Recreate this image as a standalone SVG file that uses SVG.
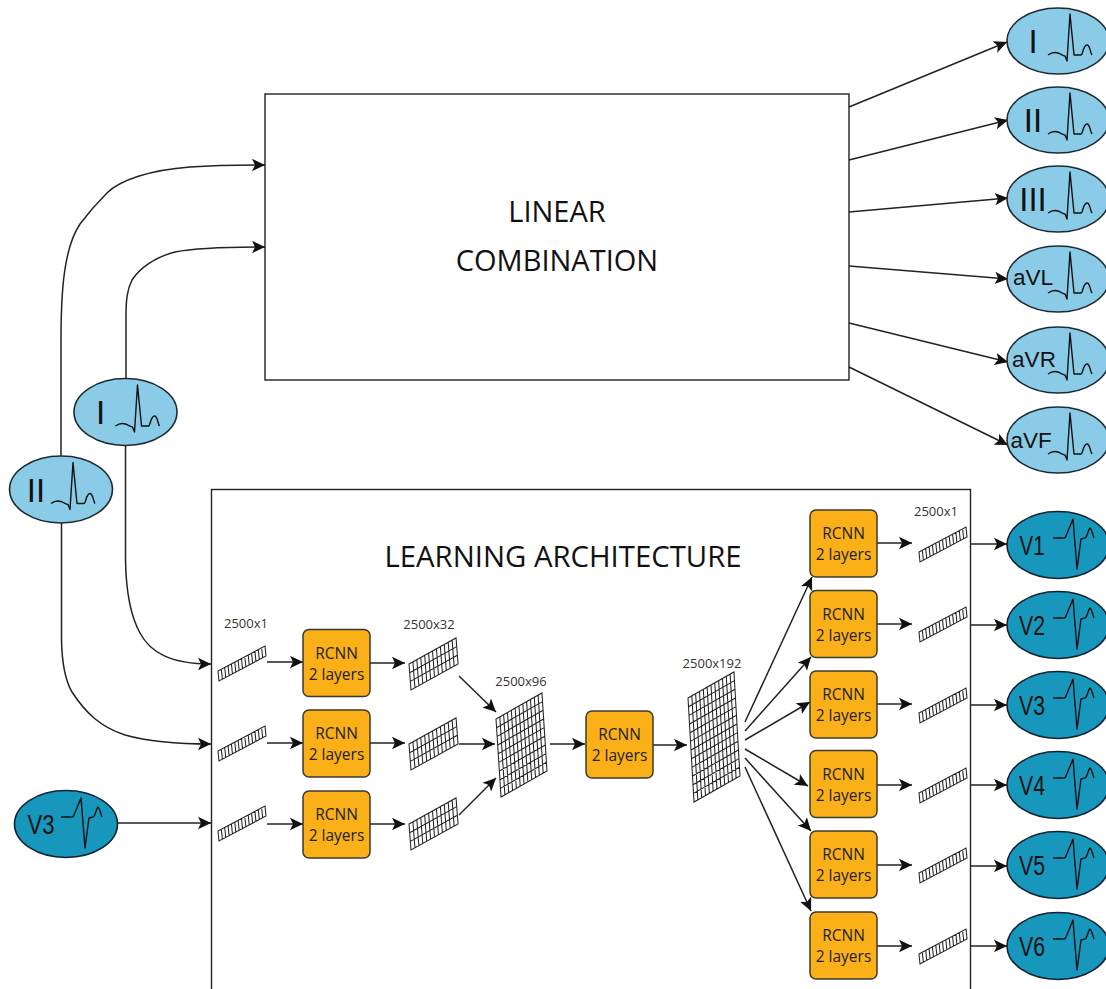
<svg xmlns="http://www.w3.org/2000/svg" xmlns:xlink="http://www.w3.org/1999/xlink" width="1106" height="989" viewBox="0 0 1106 989">
<style>
.c{fill:none;stroke:#222;stroke-width:1.5}
.a{marker-end:url(#ah)}
.box{fill:#fff;stroke:#222;stroke-width:1.4}
.lt{fill:#8accE7;stroke:#1f2a33;stroke-width:1.6}
.dk{fill:#1797bb;stroke:#123;stroke-width:1.6}
.w{fill:none;stroke:#111;stroke-width:1.4;stroke-linejoin:round}
.lead{font-family:"Liberation Sans",sans-serif;font-size:27px;fill:#111;text-anchor:middle}
.bar{font-size:33px}
.sm{font-size:22.500px}
.rc{fill:#fbb017;stroke:#3a3a30;stroke-width:1.5}
.rt{font-family:"Open Sans",sans-serif;font-size:15.500px;fill:#222;text-anchor:middle}
.dim{font-family:"Open Sans",sans-serif;font-size:13px;fill:#333;text-anchor:middle}
.big{font-family:"Open Sans",sans-serif;font-size:29px;fill:#111;text-anchor:middle}
.g{fill:#fff;stroke:#222;stroke-width:1.05;vector-effect:non-scaling-stroke}
</style>
<defs>
<marker id="ah" markerUnits="userSpaceOnUse" markerWidth="15" markerHeight="14" refX="13" refY="7" orient="auto"><path d="M0 0.8L13 7L0 13.2L3 7Z" fill="#111"/></marker>
<path id="wl" class="w" d="M-10 14C-6 11-3 11 0 12C3 13 5 15 7 15L9 20L12-27L16 14L23 14C25 14 25 4 29 4C32 4 32 11 34 14"/>
<path id="wv" class="w" d="M-5-7L4-7C6-7 7-6 8-9L15-26L19 24L23-6L27-7C29-7 30-15 32-17C33-17 35-10 36-7"/>
<path id="cells" class="g" d="M0 0H14V1H0ZM1 0V1M2 0V1M3 0V1M4 0V1M5 0V1M6 0V1M7 0V1M8 0V1M9 0V1M10 0V1M11 0V1M12 0V1M13 0V1"/>
<g id="strip" transform="matrix(3.357 -1.786 1 10 0 0)"><use href="#cells"/></g>
<path id="g3" class="g" d="M0 0H12V3H0ZM0 1H12M0 2H12M1 0V3M2 0V3M3 0V3M4 0V3M5 0V3M6 0V3M7 0V3M8 0V3M9 0V3M10 0V3M11 0V3"/>
<path id="g9" class="g" d="M0 0H12V9H0ZM0 1H12M0 2H12M0 3H12M0 4H12M0 5H12M0 6H12M0 7H12M0 8H12M1 0V9M2 0V9M3 0V9M4 0V9M5 0V9M6 0V9M7 0V9M8 0V9M9 0V9M10 0V9M11 0V9"/>
<path id="g12" class="g" d="M0 0H12V12H0ZM0 1H12M0 2H12M0 3H12M0 4H12M0 5H12M0 6H12M0 7H12M0 8H12M0 9H12M0 10H12M0 11H12M1 0V12M2 0V12M3 0V12M4 0V12M5 0V12M6 0V12M7 0V12M8 0V12M9 0V12M10 0V12M11 0V12"/>
<g id="rcnn"><rect class="rc" width="67" height="67" rx="6"/><text class="rt" x="33.500" y="29">RCNN</text><text class="rt" x="33.500" y="50">2 layers</text></g>
</defs>
<rect width="1106" height="989" fill="#fff"/>
<g id="linear-combination"><rect class="box" x="265" y="94" width="584" height="286"/><text class="big" x="557" y="222">LINEAR</text><text class="big" x="557" y="271">COMBINATION</text></g>
<g id="learning-architecture"><rect class="box" x="211.500" y="489.500" width="759" height="510"/><text class="big" x="563" y="567" textLength="357" lengthAdjust="spacingAndGlyphs">LEARNING ARCHITECTURE</text>
<text class="dim" x="246" y="628">2500x1</text><text class="dim" x="429" y="629">2500x32</text><text class="dim" x="521" y="686">2500x96</text><text class="dim" x="712" y="668">2500x192</text><text class="dim" x="936" y="516">2500x1</text></g>
<g id="connectors">
<path class="c a" d="M849 107L1007 42"/><path class="c a" d="M849 160L1008 120"/><path class="c a" d="M849 212L1008 198"/><path class="c a" d="M849 266L1008 279"/><path class="c a" d="M849 323L1008 362"/><path class="c a" d="M849 367L1008 445"/>
<path class="c a" d="M61 456V340C61 290 64 248 80 224C92 208 100 200 107 193C120 180 150 170 190 167C220 165 245 165 265 165"/>
<path class="c a" d="M126 378V317C126 300 127 290 132 280C140 268 155 257 175 252C195 248 230 247 265 247"/>
<path class="c a" d="M125.500 445V560C126 590 130 615 140 633C150 652 170 664 211 664"/>
<path class="c a" d="M61.500 523V640C62 665 65 680 72 692C85 712 100 727 125 735C150 742 180 744 211 744"/>
<path class="c a" d="M117 823H211"/>
<path class="c a" d="M267 662H303"/><path class="c a" d="M370 663H405"/><path class="c a" d="M267 743H303"/><path class="c a" d="M370 743H405"/><path class="c a" d="M267 824H303"/><path class="c a" d="M370 824H405"/>
<path class="c a" d="M459 676L496 712"/><path class="c a" d="M459 744H495"/><path class="c a" d="M459 815L496 778"/>
<path class="c a" d="M550 744H585"/><path class="c a" d="M653 745H687"/>
<path class="c a" d="M745 722L812 577"/><path class="c a" d="M745 731L811 657"/><path class="c a" d="M745 740L810 702"/><path class="c a" d="M745 749L808 786"/><path class="c a" d="M745 758L811 831"/><path class="c a" d="M745 767L811 911"/>
<path class="c a" d="M877 543H912"/><path class="c a" d="M877 624H912"/><path class="c a" d="M877 704H912"/><path class="c a" d="M877 785H912"/><path class="c a" d="M877 865H912"/><path class="c a" d="M877 946H912"/>
<path class="c a" d="M971 544H1007"/><path class="c a" d="M971 625H1007"/><path class="c a" d="M971 705H1007"/><path class="c a" d="M971 785H1007"/><path class="c a" d="M971 866H1007"/><path class="c a" d="M971 946H1007"/>
</g>
<g id="layers">
<use href="#strip" transform="translate(218 671)"/><use href="#strip" transform="translate(218 751)"/><use href="#strip" transform="translate(218 831)"/>
<use href="#g3" transform="matrix(3.92 -2.17 .67 8.67 409 664)"/><use href="#g3" transform="matrix(3.92 -2.17 .67 8.67 409 744)"/><use href="#g3" transform="matrix(3.92 -2.17 .67 8.67 409 824)"/>
<use href="#g9" transform="matrix(3.83 -2.17 .56 8.67 496 719)"/>
<use href="#g12" transform="matrix(3.83 -2.17 .5 8.67 688 698)"/>
<use href="#strip" transform="translate(919 552)"/><use href="#strip" transform="translate(919 632)"/><use href="#strip" transform="translate(919 713)"/><use href="#strip" transform="translate(919 793)"/><use href="#strip" transform="translate(919 873)"/><use href="#strip" transform="translate(919 954)"/>
</g>
<g id="rcnn-1"><use href="#rcnn" x="303" y="629.500"/></g>
<g id="rcnn-2"><use href="#rcnn" x="303" y="710"/></g>
<g id="rcnn-3"><use href="#rcnn" x="303" y="791"/></g>
<g id="rcnn-4"><use href="#rcnn" x="586" y="711"/></g>
<g id="rcnn-5"><use href="#rcnn" x="810" y="510"/></g>
<g id="rcnn-6"><use href="#rcnn" x="810" y="590.500"/></g>
<g id="rcnn-7"><use href="#rcnn" x="810" y="671"/></g>
<g id="rcnn-8"><use href="#rcnn" x="810" y="750.500"/></g>
<g id="rcnn-9"><use href="#rcnn" x="810" y="831"/></g>
<g id="rcnn-10"><use href="#rcnn" x="810" y="912"/></g>
<g id="in-I" transform="translate(125.500 412)"><ellipse class="lt" rx="51.500" ry="33.500"/><text class="lead bar" x="-25" y="12">I</text><use href="#wl"/></g>
<g id="in-II" transform="translate(61 489.500)"><ellipse class="lt" rx="51.500" ry="33.500"/><text class="lead bar" x="-25" y="12">II</text><use href="#wl"/></g>
<g id="in-V3" transform="translate(66 824)"><ellipse class="dk" rx="51.500" ry="33.500"/><text class="lead" x="-25" y="10" textLength="27" lengthAdjust="spacingAndGlyphs">V3</text><use href="#wv"/></g>
<g id="out-I" transform="translate(1058 41)"><ellipse class="lt" rx="51" ry="33"/><text class="lead bar" x="-25" y="12">I</text><use href="#wl"/></g>
<g id="out-II" transform="translate(1058 120)"><ellipse class="lt" rx="51" ry="33"/><text class="lead bar" x="-25" y="12">II</text><use href="#wl"/></g>
<g id="out-III" transform="translate(1058 199)"><ellipse class="lt" rx="51" ry="33"/><text class="lead bar" x="-25" y="12">III</text><use href="#wl"/></g>
<g id="out-aVL" transform="translate(1058 279)"><ellipse class="lt" rx="51" ry="33"/><text class="lead sm" x="-25" y="6">aVL</text><use href="#wl"/></g>
<g id="out-aVR" transform="translate(1058 360)"><ellipse class="lt" rx="51" ry="33"/><text class="lead sm" x="-24" y="7">aVR</text><use href="#wl"/></g>
<g id="out-aVF" transform="translate(1058 440)"><ellipse class="lt" rx="51" ry="33"/><text class="lead sm" x="-27" y="8">aVF</text><use href="#wl"/></g>
<g id="out-V1" transform="translate(1058 545)"><ellipse class="dk" rx="51" ry="33.500"/><text class="lead" x="-26" y="10" textLength="25" lengthAdjust="spacingAndGlyphs">V1</text><use href="#wv"/></g>
<g id="out-V2" transform="translate(1058 625)"><ellipse class="dk" rx="51" ry="33.500"/><text class="lead" x="-26" y="10" textLength="26" lengthAdjust="spacingAndGlyphs">V2</text><use href="#wv"/></g>
<g id="out-V3" transform="translate(1058 705)"><ellipse class="dk" rx="51" ry="33.500"/><text class="lead" x="-26" y="10" textLength="26" lengthAdjust="spacingAndGlyphs">V3</text><use href="#wv"/></g>
<g id="out-V4" transform="translate(1058 785)"><ellipse class="dk" rx="51" ry="33.500"/><text class="lead" x="-26" y="10" textLength="26" lengthAdjust="spacingAndGlyphs">V4</text><use href="#wv"/></g>
<g id="out-V5" transform="translate(1058 865)"><ellipse class="dk" rx="51" ry="33.500"/><text class="lead" x="-26" y="10" textLength="26" lengthAdjust="spacingAndGlyphs">V5</text><use href="#wv"/></g>
<g id="out-V6" transform="translate(1058 946)"><ellipse class="dk" rx="51" ry="33.500"/><text class="lead" x="-26" y="10" textLength="26" lengthAdjust="spacingAndGlyphs">V6</text><use href="#wv"/></g>
</svg>
